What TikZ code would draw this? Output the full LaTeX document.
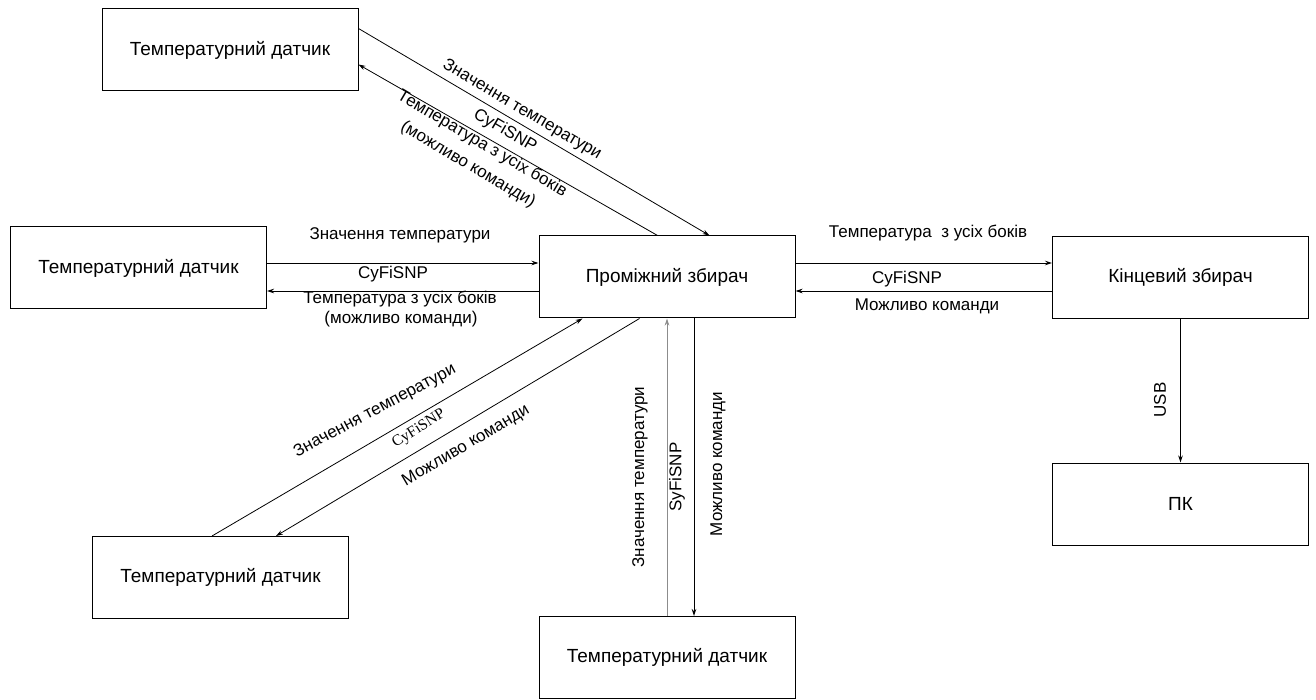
\documentclass[tikz,border=0pt]{standalone}
\usepackage{fontspec}
\setmainfont{Liberation Sans}
\newfontfamily\serifface{Liberation Serif}
\usetikzlibrary{arrows.meta}
\begin{document}
\begin{tikzpicture}[x=1pt,y=-1pt,
  box/.style={draw, line width=1pt, minimum width=256pt, minimum height=82pt,
    inner sep=0pt, font=\fontsize{19}{22}\selectfont},
  link/.style={line width=0.8pt, -{Stealth[length=7pt,width=4.5pt]}},
  lbl/.style={font=\fontsize{17}{20}\selectfont, inner sep=0pt}]
\useasboundingbox (0,0) rectangle (1316,700);

% blocks
\node[box] (tl)  at (230,50)      {Температурний датчик};
\node[box] (lft) at (138.5,268)   {Температурний датчик};
\node[box] (c)   at (667,277)     {Проміжний збирач};
\node[box] (r)   at (1180.5,277.5){Кінцевий збирач};
\node[box] (pk)  at (1180.5,504)  {ПК};
\node[box] (bl)  at (220.5,577.5) {Температурний датчик};
\node[box] (bt)  at (667,657.5)   {Температурний датчик};

% upper sensor <-> hub
\draw[link] ([yshift=-20pt]tl.north east) -- ([xshift=171pt]c.north west);
\draw[link] ([xshift=119pt]c.north west) -- ([yshift=-56pt]tl.north east);

% left sensor <-> hub
\coordinate (cwa) at ([yshift=14pt]c.west);
\coordinate (cwb) at ([yshift=-14pt]c.west);
\draw[link] (lft.east |- cwa) -- (cwa);
\draw[link] (cwb) -- (lft.east |- cwb);

% hub <-> final collector
\coordinate (cea) at ([yshift=14pt]c.east);
\coordinate (ceb) at ([yshift=-14pt]c.east);
\draw[link] (cea) -- (r.west |- cea);
\draw[link] (r.west |- ceb) -- (ceb);

% final collector -> PC
\draw[link] (r.south) -- (pk.north);

% lower-left sensor <-> hub
\draw[link] ([xshift=120pt]bl.north west) -- ([xshift=44pt]c.south west);
\draw[link] ([xshift=101pt]c.south west) -- ([xshift=184pt]bl.north west);

% bottom sensor <-> hub
\draw[link, draw=gray!90, fill=gray!90] (bt.north) -- (c.south);
\draw[link] ([xshift=27pt]c.south) -- ([xshift=27pt]bt.north);

% labels: upper link
\node[lbl, rotate=-30.5] at (522,110) {Значення температури};
\node[lbl, rotate=-30.5] at (505,131) {CyFiSNP};
\node[lbl, rotate=-30.5] at (482,144) {Температура з усіх боків};
\node[lbl, rotate=-30.5] at (468,165) {(можливо команди)};

% labels: left link
\node[lbl] at (400,235) {Значення температури};
\node[lbl] at (393,274) {CyFiSNP};
\node[lbl] at (400,299) {Температура з усіх боків};
\node[lbl] at (401,319) {(можливо команди)};

% labels: right link
\node[lbl] at (928,233) {Температура\ \ з усіх боків};
\node[lbl] at (907,279) {CyFiSNP};
\node[lbl] at (927,306) {Можливо команди};

% labels: lower-left link
\node[lbl, rotate=28] at (375,411) {Значення температури};
\node[lbl, font=\serifface\fontsize{15.5}{18}\selectfont, rotate=32] at (419,429) {CyFiSNP};
\node[lbl, rotate=30.5] at (466,446) {Можливо команди};

% labels: bottom link
\node[lbl, rotate=90] at (640,477) {Значення температури};
\node[lbl, rotate=90] at (677,477) {SyFiSNP};
\node[lbl, rotate=90] at (718,464) {Можливо команди};

% label: USB
\node[lbl, rotate=90] at (1160,400) {USB};
\end{tikzpicture}
\end{document}
